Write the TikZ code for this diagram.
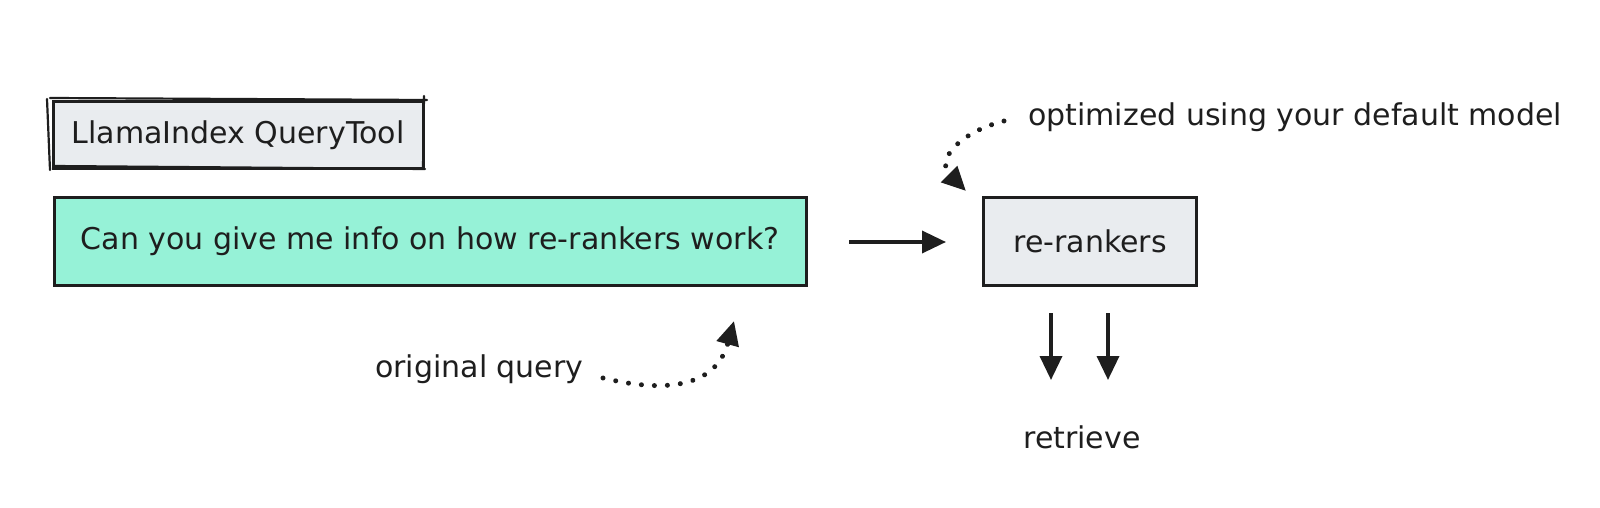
\documentclass[tikz,border=0pt]{standalone}
\usepackage{fontspec}
\setmainfont{DejaVu Sans}
\usetikzlibrary{arrows.meta}
\definecolor{ink}{HTML}{1E1E1E}
\definecolor{teal}{HTML}{96F2D7}
\definecolor{lgray}{HTML}{E9ECEF}
\tikzset{
  sketchbox/.style={draw=ink, line width=3pt, inner sep=0pt, font=\fontsize{30}{34}\selectfont, text=ink},
  lbl/.style={inner sep=0pt, font=\fontsize{30}{34}\selectfont, text=ink},
  arr/.style={draw=ink, line width=3.6pt, -{Triangle[length=24pt,width=22pt]}},
  dotarr/.style={draw=ink, line width=5pt, line cap=round, dash pattern=on 0.01pt off 13pt, -{Triangle[length=24pt,width=22pt]}},
}
\begin{document}
\begin{tikzpicture}[x=1pt,y=-1pt]
\useasboundingbox (0,0) rectangle (1600,508);
% LlamaIndex box
\node[sketchbox, fill=lgray, minimum width=370pt, minimum height=66pt] (qt) at (238,135) {LlamaIndex QueryTool};
\draw[ink, line width=2.2pt, line cap=round] (50,98) -- (427,100) (47,99) -- (50,170) (53,166) -- (425,169) (424,96) -- (423,168);
% query box
\node[sketchbox, fill=teal, minimum width=752pt, minimum height=88pt] (q) at (430,241) {Can you give me info on how re-rankers work?};
% re-rankers
\node[sketchbox, fill=lgray, minimum width=213pt, minimum height=88pt] (rr) at (1090,241) {re-rankers};
% labels
\node[lbl, anchor=west] (opt) at (1028,117) {optimized using your default model};
\node[lbl, anchor=west] (oq) at (375,369) {original query};
\node[lbl] (ret) at (1082,437) {retrieve};
% connectors
\coordinate (a1) at (849,242);
\coordinate (a2) at (946,242);
\draw[arr] (a1) -- (a2);
\coordinate (d1s) at (1051,313);
\coordinate (d1e) at (1051,380);
\coordinate (d2s) at (1108,313);
\coordinate (d2e) at (1108,380);
\draw[arr] (d1s) -- (d1e);
\draw[arr] (d2s) -- (d2e);
\coordinate (o1) at (1004,121);
\coordinate (o2) at (966,191);
\draw[dotarr] (o1) .. controls (960,132) and (935,160) .. (o2);
\coordinate (q1) at (603,378);
\coordinate (q2) at (734,321);
\draw[dotarr] (q1) .. controls (660,392) and (715,390) .. (q2);
\end{tikzpicture}
\end{document}
